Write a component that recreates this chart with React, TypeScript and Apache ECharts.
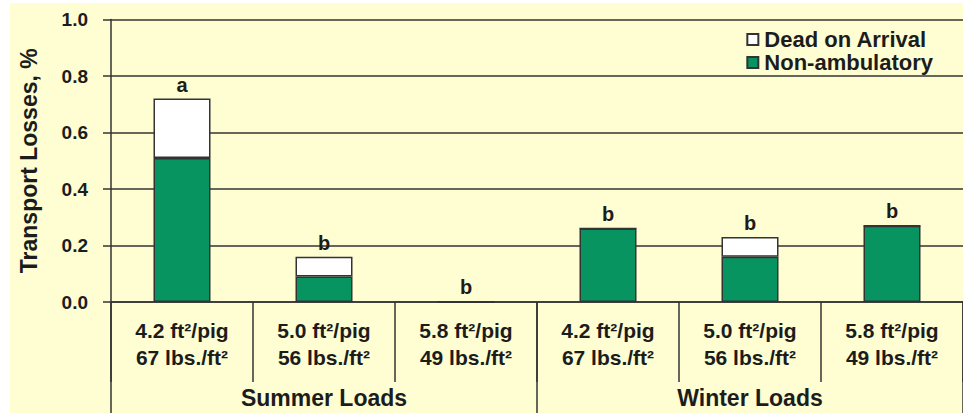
import React, { useEffect, useRef } from "react";
import * as echarts from "echarts";

const categories = [
  "4.2 ft²/pig\n67 lbs./ft²",
  "5.0 ft²/pig\n56 lbs./ft²",
  "5.8 ft²/pig\n49 lbs./ft²",
  "4.2 ft²/pig\n67 lbs./ft²",
  "5.0 ft²/pig\n56 lbs./ft²",
  "5.8 ft²/pig\n49 lbs./ft²",
];
const groups = ["Summer Loads", "Winter Loads"];
const nonAmbulatory = [0.51, 0.09, 0, 0.26, 0.16, 0.27];
const deadOnArrival = [0.21, 0.07, 0, 0, 0.07, 0];
const letters = ["a", "b", "b", "b", "b", "b"];

const FONT = "'Liberation Sans', Arial, sans-serif";
const DARK = "#333333";
const TEXT = "#1c1c1c";
const BG = "#fefed2";
const GREEN = "#079460";

export default function App() {
  const ref = useRef<HTMLDivElement>(null);
  useEffect(() => {
    if (!ref.current) return;
    const chart = echarts.init(ref.current, null, { renderer: "svg" });
    chart.setOption({
      animation: false,
      backgroundColor: "#ffffff",
      textStyle: { fontFamily: FONT },
      graphic: [
        {
          type: "rect",
          z: -10,
          silent: true,
          shape: { x: 10, y: 3, width: 960, height: 420 },
          style: { fill: BG },
        },
      ],
      grid: { left: 111, top: 19.5, width: 853, bottom: 111, containLabel: false },
      legend: {
        orient: "vertical",
        right: 25,
        top: 23,
        itemWidth: 11,
        itemHeight: 11,
        itemGap: 0,
        icon: "rect",
        data: ["Dead on Arrival", "Non-ambulatory"],
        textStyle: {
          fontFamily: FONT,
          fontWeight: "bold",
          fontSize: 22,
          lineHeight: 23,
          color: TEXT,
          padding: [0, 0, 0, 1],
        },
      },
      xAxis: [
        {
          type: "category",
          data: categories,
          position: "bottom",
          axisLine: { show: true, lineStyle: { color: DARK, width: 1.5 } },
          axisTick: { show: true, alignWithLabel: false, length: 80, lineStyle: { color: DARK, width: 1.5 } },
          axisLabel: {
            interval: 0,
            margin: 15,
            fontFamily: FONT,
            fontWeight: "bold",
            fontSize: 21,
            lineHeight: 27,
            color: TEXT,
          },
        },
        {
          type: "category",
          data: groups,
          position: "bottom",
          axisLine: { show: false },
          axisTick: { show: true, alignWithLabel: false, length: 115, lineStyle: { color: DARK, width: 1.5 } },
          axisLabel: {
            interval: 0,
            margin: 84,
            fontFamily: FONT,
            fontWeight: "bold",
            fontSize: 23,
            color: TEXT,
          },
        },
      ],
      yAxis: {
        type: "value",
        min: 0,
        max: 1,
        interval: 0.2,
        name: "Transport Losses, %",
        nameLocation: "middle",
        nameRotate: 90,
        nameGap: 71,
        nameTextStyle: { fontFamily: FONT, fontWeight: "bold", fontSize: 23, color: TEXT },
        axisLine: { show: true, lineStyle: { color: DARK, width: 1.5 } },
        axisTick: { show: true, length: 8, lineStyle: { color: DARK, width: 1.5 } },
        axisLabel: {
          margin: 23,
          fontFamily: FONT,
          fontWeight: "bold",
          fontSize: 19,
          color: TEXT,
          formatter: (v: number) => v.toFixed(1),
        },
        splitLine: { show: true, lineStyle: { color: DARK, width: 1.5 } },
      },
      series: [
        {
          name: "Non-ambulatory",
          type: "bar",
          stack: "t",
          barWidth: 57,
          data: nonAmbulatory,
          itemStyle: { color: GREEN, borderColor: DARK, borderWidth: 1.5 },
        },
        {
          name: "Dead on Arrival",
          type: "bar",
          stack: "t",
          barWidth: 57,
          data: deadOnArrival,
          itemStyle: { color: "#ffffff", borderColor: DARK, borderWidth: 1.5 },
          label: {
            show: true,
            position: "top",
            distance: 4,
            fontFamily: FONT,
            fontWeight: "bold",
            fontSize: 20,
            color: TEXT,
            formatter: (p: any) => letters[p.dataIndex],
          },
        },
      ],
    });
    return () => chart.dispose();
  }, []);
  return (
    <div
      ref={ref}
      style={{ position: "fixed", left: 0, top: 0, width: 963, height: 413 }}
    />
  );
}
